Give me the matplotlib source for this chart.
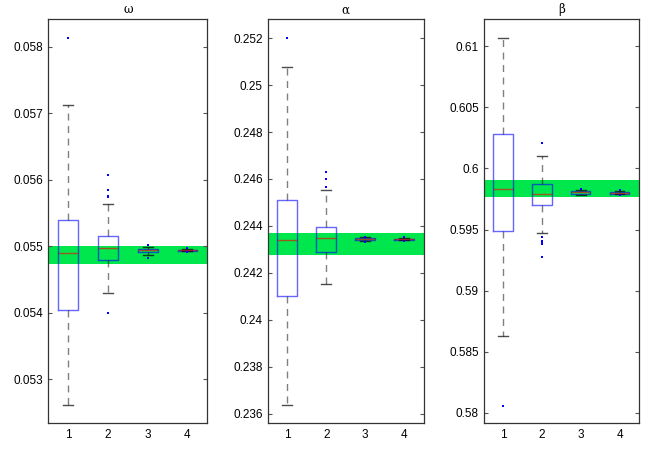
import matplotlib
matplotlib.use("Agg")
import matplotlib.pyplot as plt

# parameter names (panel titles)
titles = ["\u03c9", "\u03b1", "\u03b2"]
positions = [1, 2, 3, 4]

# box statistics, one list per panel, one value per box
omega_med = [0.054895, 0.054975, 0.054935, 0.054935]
omega_q1 = [0.054035, 0.054785, 0.054914, 0.054925]
omega_q3 = [0.055391, 0.055160, 0.054955, 0.054945]
omega_lo = [0.052610, 0.054293, 0.054865, 0.054920]
omega_hi = [0.057116, 0.055629, 0.054990, 0.054950]
omega_fl = [[0.058135], [0.056075, 0.055844, 0.055754, 0.055735, 0.054000],
            [0.055015, 0.054815], [0.054965, 0.054914]]

alpha_med = [0.243404, 0.243490, 0.243440, 0.243435]
alpha_q1 = [0.241034, 0.242894, 0.243390, 0.243410]
alpha_q3 = [0.245106, 0.243940, 0.243490, 0.243460]
alpha_lo = [0.236370, 0.241520, 0.243350, 0.243380]
alpha_hi = [0.250766, 0.245515, 0.243520, 0.243490]
alpha_fl = [[0.252030], [0.246300, 0.246000, 0.245640],
            [0.243540, 0.243320], [0.243520, 0.243360]]

beta_med = [0.59828, 0.59790, 0.59805, 0.59800]
beta_q1 = [0.59487, 0.59700, 0.59795, 0.59795]
beta_q3 = [0.60282, 0.59875, 0.59817, 0.59808]
beta_lo = [0.58631, 0.59473, 0.59785, 0.59790]
beta_hi = [0.61068, 0.60104, 0.59820, 0.59812]
beta_fl = [[0.58057], [0.60205, 0.59440, 0.59410, 0.59390, 0.59380, 0.59274],
           [0.59834], [0.59825, 0.59780]]

# green reference band per panel
bands = [(0.054734, 0.055005), (0.24277, 0.24370), (0.59768, 0.59904)]

# y ranges and ticks
ylims = [(0.05234, 0.058417), (0.23560, 0.25282), (0.57916, 0.61224)]
yticks = [[0.053, 0.054, 0.055, 0.056, 0.057, 0.058],
          [0.236, 0.238, 0.24, 0.242, 0.244, 0.246, 0.248, 0.25, 0.252],
          [0.58, 0.585, 0.59, 0.595, 0.6, 0.605, 0.61]]
yticklabels = [["0.053", "0.054", "0.055", "0.056", "0.057", "0.058"],
               ["0.236", "0.238", "0.24", "0.242", "0.244", "0.246", "0.248", "0.25", "0.252"],
               ["0.58", "0.585", "0.59", "0.595", "0.6", "0.605", "0.61"]]

panels = [
    (omega_med, omega_q1, omega_q3, omega_lo, omega_hi, omega_fl),
    (alpha_med, alpha_q1, alpha_q3, alpha_lo, alpha_hi, alpha_fl),
    (beta_med, beta_q1, beta_q3, beta_lo, beta_hi, beta_fl),
]

plt.rcParams["font.family"] = "Liberation Sans"

fig = plt.figure(figsize=(6.54, 4.75), dpi=100)
lefts = [0.0739, 0.4093, 0.7396]
widths = [0.2431, 0.2386, 0.2375]

for i, (med, q1, q3, lo, hi, fl) in enumerate(panels):
    ax = fig.add_axes([lefts[i], 0.1095, widths[i], 0.8505])
    stats = []
    for j in range(4):
        stats.append({"med": med[j], "q1": q1[j], "q3": q3[j],
                      "whislo": lo[j], "whishi": hi[j], "fliers": fl[j]})
    ax.axhspan(bands[i][0], bands[i][1], color="#00e64d", zorder=1, lw=0)
    ax.bxp(stats, positions=positions, widths=0.5, showfliers=True,
           boxprops=dict(color="blue", alpha=0.6, lw=1.0),
           medianprops=dict(color="red", alpha=0.6, lw=1.0),
           whiskerprops=dict(color="black", alpha=0.5, lw=1.0, linestyle=(0, (5, 4))),
           capprops=dict(color="black", alpha=0.7, lw=1.0),
           flierprops=dict(marker="s", markersize=1.6, markerfacecolor="blue",
                           markeredgewidth=0, linestyle="none"),
           capwidths=0.25, zorder=3)
    ax.set_xlim(0.5, 4.5)
    ax.set_ylim(*ylims[i])
    ax.set_yticks(yticks[i])
    ax.set_yticklabels(yticklabels[i], fontsize=8.5)
    ax.set_xticks(positions)
    ax.set_xticklabels(["1", "2", "3", "4"], fontsize=8.5)
    ax.tick_params(axis="x", length=0, pad=4)
    ax.tick_params(axis="y", direction="in", length=3, right=True, left=True,
                   color="#555555")
    for s in ax.spines.values():
        s.set_color("#333333")
        s.set_linewidth(0.9)
    ax.set_title(titles[i], fontsize=8.5, family="DejaVu Serif", pad=4)

plt.savefig("out.png")
